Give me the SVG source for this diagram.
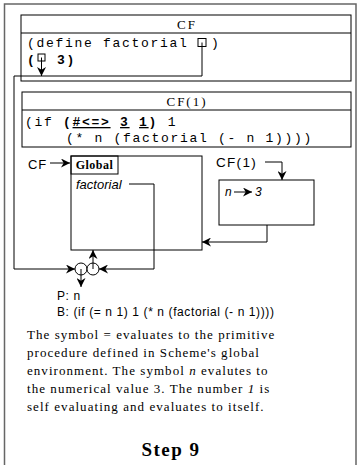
<svg xmlns="http://www.w3.org/2000/svg" width="359" height="465" viewBox="0 0 359 465">
<style>
.box{fill:none;stroke:#000;stroke-width:1}
.ln{fill:none;stroke:#000;stroke-width:1}
.mono{font-family:"Liberation Mono",monospace;font-size:13px;letter-spacing:1.7px;fill:#000}
.title{font-family:"Liberation Serif",serif;font-size:13px;letter-spacing:2px;fill:#000;text-anchor:middle}
.sans{font-family:"Liberation Sans",Arial,sans-serif;fill:#000}
.para{font-family:"Liberation Serif",serif;font-size:13px;letter-spacing:1.05px;fill:#000}
</style>
<defs>
<marker id="ah" viewBox="0 0 10 10" refX="10" refY="5" markerWidth="9" markerHeight="9" markerUnits="userSpaceOnUse" orient="auto">
<path d="M0,0 L10,5 L0,10 L3,5 z" fill="#000"/>
</marker>
</defs>
<rect width="359" height="465" fill="#fff"/>
<path d="M4.5,465 V4 H356 V465" fill="none" stroke="#666" stroke-width="1.5"/>

<g id="frame-cf">
<rect class="box" x="21" y="15" width="330" height="66"/>
<line class="ln" x1="21" y1="33" x2="351" y2="33"/>
<text class="title" x="187" y="29">CF</text>
<text class="mono" x="27" y="47">(define factorial</text>
<rect class="box" x="198" y="38.5" width="8" height="8"/>
<text class="mono" x="211" y="47">)</text>
<text class="mono" x="27" y="64" font-weight="bold">(</text>
<rect class="box" x="38" y="54" width="7" height="7" stroke-width="1.3"/>
<text class="mono" x="57" y="64" font-weight="bold">3)</text>
</g>

<g id="frame-cf1">
<rect class="box" x="22" y="92" width="329" height="55"/>
<line class="ln" x1="22" y1="110" x2="351" y2="110"/>
<text class="title" x="187" y="106">CF(1)</text>
<text class="mono" x="25" y="126" xml:space="preserve">(if <tspan font-weight="bold">(<tspan text-decoration="underline">#&lt;=&gt;</tspan> <tspan text-decoration="underline">3</tspan> <tspan text-decoration="underline">1</tspan>)</tspan> 1</text>
<text class="mono" x="66" y="142">(* n (factorial (- n 1))))</text>
</g>

<g id="env-global">
<rect class="box" x="71" y="156" width="131" height="94"/>
<rect class="box" x="71" y="156" width="47" height="18"/>
<text x="94.5" y="169" font-family="Liberation Serif,serif" font-size="12" font-weight="bold" text-anchor="middle" letter-spacing="0.5">Global</text>
<text class="sans" x="76" y="189" font-size="13" font-style="italic">factorial</text>
<text class="sans" x="28" y="169" font-size="13" letter-spacing="0.8">CF</text>
</g>

<g id="env-cf1">
<rect class="box" x="219" y="180" width="95" height="45"/>
<text class="sans" x="225" y="196" font-size="12" font-style="italic">n</text>
<text class="sans" x="255" y="196" font-size="12" font-style="italic">3</text>
<text class="sans" x="216" y="167" font-size="13.5" letter-spacing="1.3">CF(1)</text>
</g>

<g id="closure">
<circle cx="81" cy="269" r="6" fill="#fff" stroke="#000"/>
<circle cx="93" cy="269" r="6" fill="#fff" stroke="#000"/>
<text class="sans" x="57" y="300" font-size="12" letter-spacing="0.6">P: n</text>
<text class="sans" x="57" y="316" font-size="12" letter-spacing="0.6">B: (if (= n 1) 1 (* n (factorial (- n 1))))</text>
</g>

<g id="connectors">
<path class="ln" d="M202,42.5 V76 H14 V269 H75" marker-end="url(#ah)"/>
<path class="ln" d="M41.5,57.5 V76" marker-end="url(#ah)"/>
<path class="ln" d="M129,184 H154 V269 H99" marker-end="url(#ah)"/>
<path class="ln" d="M93,269 V250" marker-end="url(#ah)"/>
<path class="ln" d="M81,269 V287" marker-end="url(#ah)"/>
<path class="ln" d="M50,163 H70" marker-end="url(#ah)"/>
<path class="ln" d="M265,162 H282 V180" marker-end="url(#ah)"/>
<path class="ln" d="M234,192 H252" marker-end="url(#ah)"/>
<path class="ln" d="M267,225 V242 H202" marker-end="url(#ah)"/>
</g>

<g id="caption">
<text class="para" x="27" y="339">The symbol = evaluates to the primitive</text>
<text class="para" x="27" y="357">procedure defined in Scheme's global</text>
<text class="para" x="27" y="375">environment. The symbol <tspan font-style="italic">n</tspan> evalutes to</text>
<text class="para" x="27" y="393">the numerical value 3. The number <tspan font-style="italic">1</tspan> is</text>
<text class="para" x="27" y="411">self evaluating and evaluates to itself.</text>
<text x="171" y="456" font-family="Liberation Serif,serif" font-size="19" font-weight="bold" text-anchor="middle" letter-spacing="1.5">Step 9</text>
</g>
</svg>
